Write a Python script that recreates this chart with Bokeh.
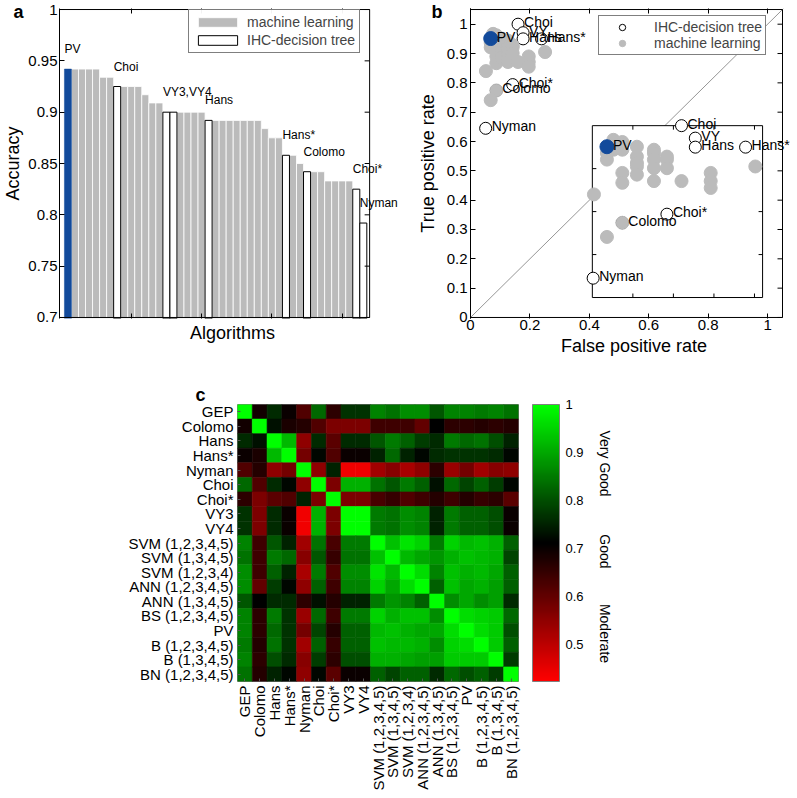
import math
from bokeh.plotting import figure
from bokeh.models import (ColumnDataSource, Range1d, LinearAxis, FixedTicker, NumeralTickFormatter,
                          Legend, LegendItem, LabelSet, LinearColorMapper, ColorBar, Slope, Title)
from bokeh.layouts import column, row
from bokeh.transform import transform
from bokeh.core.properties import value
from bokeh.embed import file_html
from bokeh.resources import INLINE

FONT = "Liberation Sans"
BLUE = "#124a9b"
GRAY = "#bbbbbb"

# ================= data: panel a (accuracy of algorithms) =================
accuracy = [0.942, 0.942, 0.942, 0.942, 0.942, 0.934, 0.934, 0.925, 0.925, 0.925,
            0.925, 0.917, 0.909, 0.909, 0.900, 0.900, 0.900, 0.900, 0.900, 0.900,
            0.892, 0.892, 0.892, 0.892, 0.892, 0.892, 0.892, 0.892, 0.884, 0.875,
            0.875, 0.858, 0.858, 0.850, 0.842, 0.842, 0.842, 0.833, 0.833, 0.833,
            0.833, 0.825, 0.792]
bar_kind = ["pv", "ml", "ml", "ml", "ml", "ml", "ml", "ihc", "ml", "ml",
            "ml", "ml", "ml", "ml", "ihc", "ihc", "ml", "ml", "ml", "ml",
            "ihc", "ml", "ml", "ml", "ml", "ml", "ml", "ml", "ml", "ml",
            "ml", "ihc", "ml", "ml", "ihc", "ml", "ml", "ml", "ml", "ml",
            "ml", "ihc", "ihc"]
bar_label_text = ["PV", "Choi", "VY3,VY4", "Hans", "Hans*", "Colomo", "Choi*", "Nyman"]
bar_label_pos = [1, 8, 15, 21, 32, 35, 42, 43]
acc_ticks = [0.7, 0.75, 0.8, 0.85, 0.9, 0.95, 1.0]
alg_ticks = [10, 20, 30, 40]

# ================= data: panel b (ROC space) =================
ihc_names = ["Choi", "VY", "Hans", "Hans*", "Choi*", "Colomo", "Nyman"]
ihc_fpr = [0.160, 0.177, 0.177, 0.239, 0.142, 0.087, 0.051]
ihc_tpr = [1.000, 0.971, 0.950, 0.950, 0.794, 0.774, 0.645]
ml_fpr = [0.068, 0.068, 0.076, 0.076, 0.087, 0.087, 0.087, 0.087, 0.087,
          0.105, 0.105, 0.105, 0.105, 0.105, 0.126, 0.126, 0.126, 0.126, 0.126,
          0.142, 0.142, 0.142, 0.160, 0.196, 0.196, 0.196, 0.251, 0.052, 0.068]
ml_tpr = [0.936, 0.921, 0.967, 0.944, 0.962, 0.944, 0.890, 0.867, 0.774,
          0.951, 0.928, 0.913, 0.905, 0.886, 0.944, 0.936, 0.921, 0.901, 0.871,
          0.928, 0.921, 0.901, 0.871, 0.890, 0.871, 0.855, 0.905, 0.840, 0.741]
pv_name = ["PV"]
pv_fpr = [0.068]
pv_tpr = [0.951]
fpr_ticks = [0, 0.2, 0.4, 0.6, 0.8, 1.0]
tpr_ticks = [0, 0.1, 0.2, 0.3, 0.4, 0.5, 0.6, 0.7, 0.8, 0.9, 1.0]
inset_xticks = [0.1, 0.15, 0.2, 0.25]
inset_yticks = [0.7, 0.8, 0.9]

# ================= data: panel c (agreement matrix) =================
methods = ["GEP", "Colomo", "Hans", "Hans*", "Nyman", "Choi", "Choi*", "VY3", "VY4",
           "SVM (1,2,3,4,5)", "SVM (1,3,4,5)", "SVM (1,2,3,4)", "ANN (1,2,3,4,5)",
           "ANN (1,3,4,5)", "BS (1,2,3,4,5)", "PV", "B (1,2,3,4,5)", "B (1,3,4,5)",
           "BN (1,2,3,4,5)"]
agreement = [
    [1.00, 0.69, 0.76, 0.70, 0.62, 0.83, 0.66, 0.77, 0.77, 0.86, 0.84, 0.87, 0.87, 0.81, 0.86, 0.86, 0.85, 0.86, 0.84],
    [0.69, 1.00, 0.73, 0.68, 0.67, 0.62, 0.57, 0.57, 0.57, 0.64, 0.64, 0.64, 0.60, 0.71, 0.66, 0.66, 0.67, 0.66, 0.67],
    [0.76, 0.73, 1.00, 0.92, 0.55, 0.76, 0.61, 0.76, 0.76, 0.81, 0.85, 0.82, 0.78, 0.76, 0.85, 0.83, 0.84, 0.80, 0.75],
    [0.70, 0.68, 0.92, 1.00, 0.58, 0.72, 0.62, 0.70, 0.70, 0.75, 0.83, 0.75, 0.72, 0.76, 0.77, 0.77, 0.77, 0.76, 0.72],
    [0.62, 0.67, 0.55, 0.58, 1.00, 0.55, 0.75, 0.44, 0.44, 0.53, 0.56, 0.52, 0.55, 0.66, 0.54, 0.58, 0.53, 0.56, 0.55],
    [0.83, 0.62, 0.76, 0.72, 0.55, 1.00, 0.57, 0.91, 0.91, 0.84, 0.81, 0.85, 0.82, 0.73, 0.83, 0.79, 0.82, 0.78, 0.72],
    [0.66, 0.57, 0.61, 0.62, 0.75, 0.57, 1.00, 0.57, 0.57, 0.63, 0.65, 0.62, 0.64, 0.67, 0.64, 0.67, 0.65, 0.66, 0.61],
    [0.77, 0.57, 0.76, 0.70, 0.44, 0.91, 0.57, 1.00, 1.00, 0.85, 0.84, 0.87, 0.86, 0.75, 0.85, 0.82, 0.82, 0.80, 0.70],
    [0.77, 0.57, 0.76, 0.70, 0.44, 0.91, 0.57, 1.00, 1.00, 0.85, 0.84, 0.87, 0.86, 0.75, 0.85, 0.82, 0.82, 0.80, 0.70],
    [0.86, 0.64, 0.81, 0.75, 0.53, 0.84, 0.63, 0.85, 0.85, 1.00, 0.93, 0.97, 0.95, 0.85, 0.95, 0.92, 0.93, 0.91, 0.82],
    [0.84, 0.64, 0.85, 0.83, 0.56, 0.81, 0.65, 0.84, 0.84, 0.93, 1.00, 0.92, 0.90, 0.88, 0.91, 0.93, 0.92, 0.91, 0.79],
    [0.87, 0.64, 0.82, 0.75, 0.52, 0.85, 0.62, 0.87, 0.87, 0.97, 0.92, 1.00, 0.96, 0.86, 0.93, 0.91, 0.92, 0.90, 0.82],
    [0.87, 0.60, 0.78, 0.72, 0.55, 0.82, 0.64, 0.86, 0.86, 0.95, 0.90, 0.96, 1.00, 0.82, 0.93, 0.90, 0.91, 0.89, 0.82],
    [0.81, 0.71, 0.76, 0.76, 0.66, 0.73, 0.67, 0.75, 0.75, 0.85, 0.88, 0.86, 0.82, 1.00, 0.87, 0.90, 0.87, 0.89, 0.76],
    [0.86, 0.66, 0.85, 0.77, 0.54, 0.83, 0.64, 0.85, 0.85, 0.95, 0.91, 0.93, 0.93, 0.87, 1.00, 0.96, 0.95, 0.94, 0.83],
    [0.86, 0.66, 0.83, 0.77, 0.58, 0.79, 0.67, 0.82, 0.82, 0.92, 0.93, 0.91, 0.90, 0.90, 0.96, 1.00, 0.96, 0.94, 0.80],
    [0.85, 0.67, 0.84, 0.77, 0.53, 0.82, 0.65, 0.82, 0.82, 0.93, 0.92, 0.92, 0.91, 0.87, 0.95, 0.96, 1.00, 0.94, 0.82],
    [0.86, 0.66, 0.80, 0.76, 0.56, 0.78, 0.66, 0.80, 0.80, 0.91, 0.91, 0.90, 0.89, 0.89, 0.94, 0.94, 0.94, 1.00, 0.78],
    [0.84, 0.67, 0.75, 0.72, 0.55, 0.72, 0.61, 0.70, 0.70, 0.82, 0.79, 0.82, 0.82, 0.76, 0.83, 0.80, 0.82, 0.78, 1.00],
]
cbar_ticks = [0.5, 0.6, 0.7, 0.8, 0.9, 1.0]
quality_text = ["Very Good", "Good", "Moderate"]
quality_level = [0.877, 0.694, 0.523]
CB_LOW, CB_HIGH = 0.423, 1.0


# ================= helpers =================
def style_axis(ax, tick_size="15px"):
    ax.major_label_text_font = FONT
    ax.major_label_text_font_size = tick_size
    ax.major_label_text_color = "black"
    ax.axis_label_text_font = FONT
    ax.axis_label_text_font_size = "18px"
    ax.axis_label_text_font_style = "normal"
    ax.axis_label_text_color = "black"
    ax.major_tick_in = 5
    ax.major_tick_out = 0
    ax.major_tick_line_color = "black"
    ax.minor_tick_line_color = None
    ax.axis_line_color = "black"
    ax.major_label_standoff = 3
    ax.axis_label_standoff = 3


def add_top_ticks(p, ticks):
    ax = LinearAxis(ticker=FixedTicker(ticks=ticks))
    style_axis(ax)
    ax.major_label_text_font_size = "1px"
    ax.major_label_text_color = None
    ax.major_label_standoff = 0
    ax.axis_line_color = None
    p.add_layout(ax, "above")


def panel_letter(p, txt, offset, standoff):
    p.add_layout(Title(text=txt, align="left", offset=offset, standoff=standoff,
                       vertical_align="bottom", text_font=FONT, text_font_size="18px",
                       text_font_style="bold", text_color="black"), "above")


# ================= panel a =================
A_XBOX, A_YBOX = (-0.2, 43.9), (0.7, 1.0)
pa = figure(width=408, height=380, x_range=Range1d(A_XBOX[0], 49.0),
            y_range=Range1d(A_YBOX[0] - 0.001, A_YBOX[1] + 0.001),
            output_backend="svg", toolbar_location=None,
            min_border_left=57, min_border_right=3, min_border_top=8, min_border_bottom=62)
pa.grid.visible = False
pa.outline_line_color = None
bar_x = list(range(1, len(accuracy) + 1))


def bar_subset(kind):
    return ColumnDataSource(dict(x=[x for x, k in zip(bar_x, bar_kind) if k == kind],
                                 top=[a for a, k in zip(accuracy, bar_kind) if k == kind]))


r_ml = pa.vbar(x="x", top="top", width=1.0, source=bar_subset("ml"),
               fill_color=GRAY, line_color="white", line_width=0.8)
r_ihc = pa.vbar(x="x", top="top", width=1.0, source=bar_subset("ihc"),
                fill_color="white", line_color="black", line_width=1)
r_pv = pa.vbar(x="x", top="top", width=1.0, source=bar_subset("pv"),
               fill_color=BLUE, line_color=BLUE, line_width=0.5)
pa.quad(left=[A_XBOX[0]], right=[A_XBOX[1]], bottom=[A_YBOX[0]], top=[A_YBOX[1]],
        fill_color=None, line_color="black", line_width=1)
pa.ray(x=[A_XBOX[1]] * len(acc_ticks), y=acc_ticks, length=5, length_units="screen",
       angle=math.pi, line_color="black", line_width=1)

style_axis(pa.xaxis[0])
pa.xaxis[0].ticker = FixedTicker(ticks=alg_ticks)
pa.xaxis[0].major_label_text_font_size = "1px"
pa.xaxis[0].major_label_text_color = None
pa.xaxis[0].major_label_standoff = 0
pa.xaxis[0].axis_line_color = None
pa.xaxis[0].axis_label = "Algorithms"
pa.xaxis[0].axis_label_standoff = 4
style_axis(pa.yaxis[0])
pa.yaxis[0].ticker = FixedTicker(ticks=acc_ticks)
pa.yaxis[0].formatter = NumeralTickFormatter(format="0.[00]")
pa.yaxis[0].axis_label = "Accuracy"
pa.yaxis[0].axis_label_standoff = 2
pa.yaxis[0].major_label_standoff = 2
add_top_ticks(pa, alg_ticks)

leg_a = Legend(items=[LegendItem(label=value("machine learning"), renderers=[r_ml]),
                      LegendItem(label=value("IHC-decision tree"), renderers=[r_ihc])],
               location=(129, 265), padding=4, spacing=2,
               glyph_width=49, glyph_height=12, label_height=13, label_standoff=5,
               label_text_font=FONT, label_text_font_size="14px",
               border_line_color="black", border_line_width=1)
pa.add_layout(leg_a)

lab_a = ColumnDataSource(dict(x=[b - 0.5 for b in bar_label_pos],
                              y=[accuracy[b - 1] for b in bar_label_pos],
                              text=bar_label_text))
pa.add_layout(LabelSet(x="x", y="y", text="text", source=lab_a, y_offset=20,
                       text_baseline="middle", text_align="left",
                       text_font=value(FONT), text_font_size=value("12px"), text_color="black"))
panel_letter(pa, "a", -46, -27)

# ================= panel b =================
B_BOX = (0.0, 1.05)
B_XEND = 1.05 * (797 - 470) / (782 - 470)
B_FULL_X = (0.0, B_XEND)
B_FULL_Y = (-0.0035, 1.0535)
pb = figure(width=389, height=380, x_range=Range1d(*B_FULL_X), y_range=Range1d(*B_FULL_Y),
            output_backend="svg", toolbar_location=None,
            min_border_left=62, min_border_right=0, min_border_top=8, min_border_bottom=62)
pb.grid.visible = False
pb.outline_line_color = None

# inset: zoom window (data units) and where it sits inside the main axes
inset_win_x, inset_win_y = (0.05, 0.26), (0.6, 1.0)
inset_box_x, inset_box_y = (0.41, 0.983), (0.068, 0.654)


def inset_range(win, box, full):
    f0 = (box[0] - full[0]) / (full[1] - full[0])
    f1 = (box[1] - full[0]) / (full[1] - full[0])
    span = (win[1] - win[0]) / (f1 - f0)
    start = win[0] - f0 * span
    return Range1d(start, start + span)


pb.extra_x_ranges = {"ins": inset_range(inset_win_x, inset_box_x, B_FULL_X)}
pb.extra_y_ranges = {"ins": inset_range(inset_win_y, inset_box_y, B_FULL_Y)}

pb.add_layout(Slope(gradient=1, y_intercept=0, line_color="#8a8a8a", line_width=0.9, level="underlay"))


def roc_points(rng, sz):
    kw = dict(x_range_name=rng, y_range_name=rng)
    r_i = pb.scatter(ihc_fpr, ihc_tpr, size=sz, marker="circle", fill_color="white",
                     line_color="black", line_width=1, **kw)
    r_m = pb.scatter(ml_fpr, ml_tpr, size=sz + 1, marker="circle", fill_color=GRAY,
                     line_color=GRAY, **kw)
    pb.scatter(pv_fpr, pv_tpr, size=sz + 2, marker="circle", fill_color=BLUE,
               line_color=BLUE, **kw)
    src = ColumnDataSource(dict(x=ihc_fpr + pv_fpr, y=ihc_tpr + pv_tpr, text=ihc_names + pv_name))
    pb.add_layout(LabelSet(x="x", y="y", text="text", source=src, x_offset=6, y_offset=2,
                           text_baseline="middle", text_align="left",
                           text_font=value(FONT), text_font_size=value("14px"),
                           text_color="black", **kw))
    return r_i, r_m


r_ihc_b, r_ml_b = roc_points("default", 12)

pb.quad(left=[inset_win_x[0]], right=[inset_win_x[1]], bottom=[inset_win_y[0]], top=[inset_win_y[1]],
        fill_color="white", line_color="black", line_width=1, x_range_name="ins", y_range_name="ins")
for ys, ang in ((inset_win_y[0], math.pi / 2), (inset_win_y[1], -math.pi / 2)):
    pb.ray(x=inset_xticks, y=[ys] * len(inset_xticks), length=4, length_units="screen", angle=ang,
           line_color="black", line_width=1, x_range_name="ins", y_range_name="ins")
for xs, ang in ((inset_win_x[0], 0.0), (inset_win_x[1], math.pi)):
    pb.ray(x=[xs] * len(inset_yticks), y=inset_yticks, length=4, length_units="screen", angle=ang,
           line_color="black", line_width=1, x_range_name="ins", y_range_name="ins")
roc_points("ins", 12)

pb.quad(left=[B_BOX[0]], right=[B_BOX[1]], bottom=[B_BOX[0]], top=[B_BOX[1]],
        fill_color=None, line_color="black", line_width=1)
pb.ray(x=[B_BOX[1]] * len(tpr_ticks), y=tpr_ticks, length=5, length_units="screen",
       angle=math.pi, line_color="black", line_width=1)

style_axis(pb.xaxis[0])
pb.xaxis[0].ticker = FixedTicker(ticks=fpr_ticks)
pb.xaxis[0].formatter = NumeralTickFormatter(format="0.[0]")
pb.xaxis[0].axis_label = "False positive rate"
pb.xaxis[0].major_label_standoff = 1
pb.xaxis[0].axis_line_color = None
style_axis(pb.yaxis[0])
pb.yaxis[0].ticker = FixedTicker(ticks=tpr_ticks)
pb.yaxis[0].formatter = NumeralTickFormatter(format="0.[0]")
pb.yaxis[0].axis_label = "True positive rate"
pb.yaxis[0].axis_label_standoff = 6
add_top_ticks(pb, fpr_ticks)

leg_b = Legend(items=[LegendItem(label=value("IHC-decision tree"), renderers=[r_ihc_b]),
                      LegendItem(label=value("machine learning"), renderers=[r_ml_b])],
               location=(128, 263), padding=3, spacing=0,
               glyph_width=40, glyph_height=16, label_height=14, label_standoff=12,
               label_text_font=FONT, label_text_font_size="14px",
               border_line_color="black", border_line_width=1)
pb.add_layout(leg_b)
panel_letter(pb, "b", -39, -27)

# ================= panel c =================
half = 128
palette = ["#%02x0000" % int(round(255 * (1 - k / (half - 1)))) for k in range(half)] + \
          ["#00%02x00" % int(round(255 * k / (half - 1))) for k in range(half)]
mapper = LinearColorMapper(palette=palette, low=CB_LOW, high=CB_HIGH)

n_m = len(methods)
cell_x, cell_y, cell_v = [], [], []
for i, row_vals in enumerate(agreement):
    for j, v in enumerate(row_vals):
        cell_x.append(j)
        cell_y.append(i)
        cell_v.append(v)
cells = ColumnDataSource(dict(x=cell_x, y=cell_y, v=cell_v))

C_H, C_TOP, C_FRAME = 414, 24, 277
pc = figure(width=526, height=C_H, x_range=Range1d(-0.5, n_m - 0.5), y_range=Range1d(n_m - 0.5, -0.5),
            output_backend="svg", toolbar_location=None,
            min_border_left=237, min_border_right=8, min_border_top=C_TOP,
            min_border_bottom=C_H - C_TOP - C_FRAME)
pc.grid.visible = False
pc.outline_line_color = "#808080"
pc.rect(x="x", y="y", width=1, height=1, source=cells,
        fill_color=transform("v", mapper), line_color=transform("v", mapper), line_width=0.6)

for ax in (pc.xaxis[0], pc.yaxis[0]):
    style_axis(ax, tick_size="15px")
    ax.ticker = FixedTicker(ticks=list(range(n_m)))
    ax.major_label_overrides = {i: m for i, m in enumerate(methods)}
    ax.axis_line_color = None
    ax.major_tick_in = 3
    ax.major_tick_line_color = "#555555"
    ax.major_label_standoff = 4
pc.xaxis[0].major_label_orientation = math.pi / 2
panel_letter(pc, "c", -42, 0)

# colour bar panel (its own frame so the side texts stay inside it)
CB_W_PX = 27
pcb = figure(width=130, height=C_H, x_range=Range1d(0, 124 / CB_W_PX), y_range=Range1d(CB_LOW, CB_HIGH),
             output_backend="svg", toolbar_location=None, x_axis_type=None, y_axis_type=None,
             min_border_left=6, min_border_right=0, min_border_top=C_TOP,
             min_border_bottom=C_H - C_TOP - C_FRAME)
pcb.grid.visible = False
pcb.outline_line_color = None
cbar = ColorBar(color_mapper=mapper, ticker=FixedTicker(ticks=cbar_ticks),
                formatter=NumeralTickFormatter(format="0.[0]"),
                width=CB_W_PX, height=C_FRAME, padding=0, margin=0, location="top_left",
                bar_line_color="#808080", major_tick_line_color=None, minor_tick_line_color=None,
                major_label_text_font=FONT, major_label_text_font_size="13px",
                major_label_text_color="black", label_standoff=6,
                border_line_color=None, background_fill_color=None)
pcb.add_layout(cbar)
pcb.text(x=[2.7] * len(quality_text), y=quality_level, text=quality_text, angle=-math.pi / 2,
         text_align="center", text_baseline="middle", text_font=value(FONT),
         text_font_size=value("14px"), text_color="black")

layout = column(row(pa, pb), row(pc, pcb))
open("out.html", "w").write(file_html(layout, INLINE))
